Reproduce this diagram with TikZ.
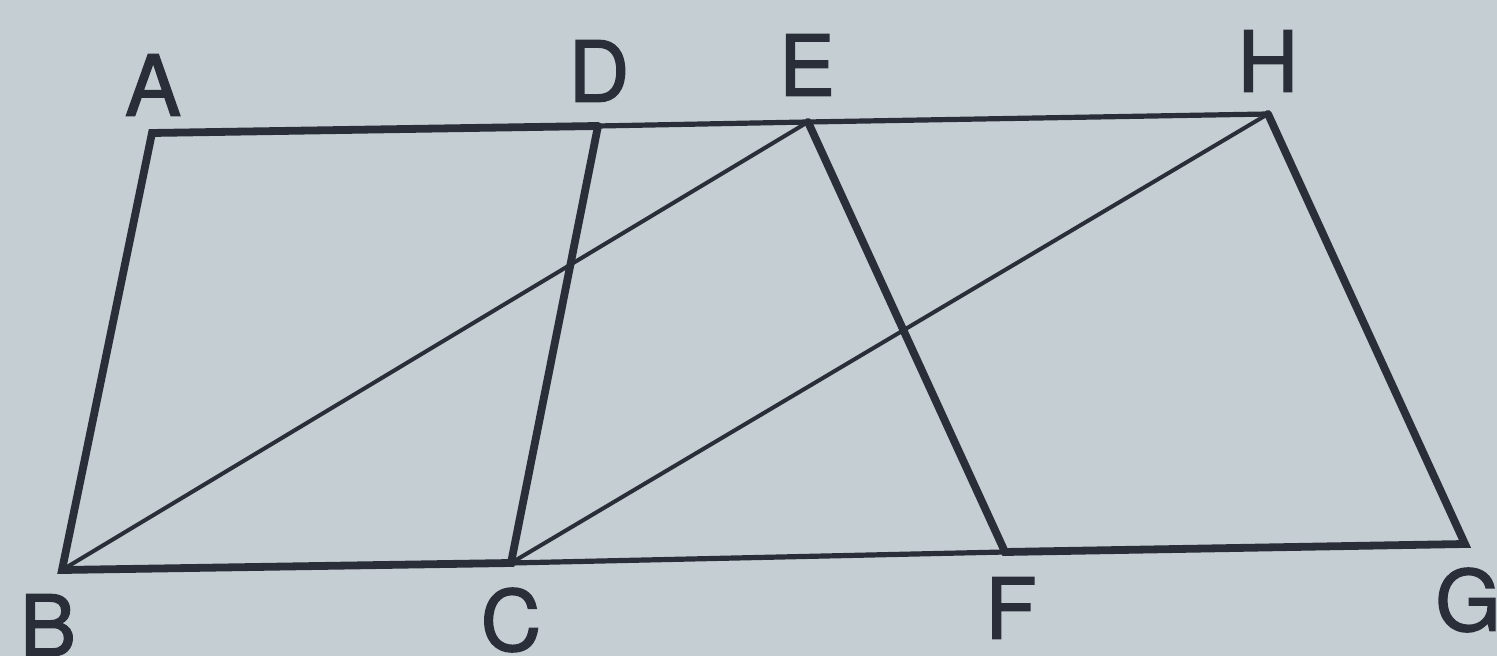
\documentclass[tikz,border=0pt]{standalone}
\usepackage{fontspec}
\setmainfont{TeX Gyre Heros}
\newfontfamily\lblfont[FakeBold=1.6]{TeX Gyre Heros}
\definecolor{paper}{RGB}{197,207,211}
\definecolor{ink}{RGB}{42,46,56}
\begin{document}
\begin{tikzpicture}[x=0.5pt,y=-0.5pt,
  heavy/.style={draw=ink,line width=3.9pt,line join=miter,line cap=round},
  medium/.style={draw=ink,line width=2.6pt,line cap=round},
  light/.style={draw=ink,line width=2.0pt,line cap=round},
  lbl/.style={text=ink,font=\lblfont\fontsize{42}{42}\selectfont,inner sep=0pt}]
\fill[paper] (0,0) rectangle (1497,656);
\useasboundingbox (0,0) rectangle (1497,656);
\coordinate (A) at (152,133);
\coordinate (D) at (598,126);
\coordinate (E) at (808,122);
\coordinate (H) at (1268,114);
\coordinate (B) at (62,570);
\coordinate (C) at (511,563);
\coordinate (F) at (1005,552);
\coordinate (G) at (1465,544);
% thin diagonals
\draw[light] (B) -- (E);
\draw[light] (C) -- (H);
% top and bottom middle segments
\draw[medium] (D) -- (E) -- (H);
\draw[medium] (C) -- (F);
% heavy outlines
\draw[heavy] (D) -- (A) -- (B) -- (C) -- (D);
\draw[heavy] (E) -- (F) -- (G) -- (H);
% labels
\node[lbl] (lA) at (153,85) {A};
\node[lbl] (lD) at (599,71) {D};
\node[lbl] (lE) at (807,65) {E};
\node[lbl] (lH) at (1268,61) {H};
\node[lbl] (lB) at (48,625) {B};
\node[lbl] (lC) at (511,620) {C};
\node[lbl] (lF) at (1011,608) {F};
\node[lbl] (lG) at (1468,600) {G};
\end{tikzpicture}
\end{document}
